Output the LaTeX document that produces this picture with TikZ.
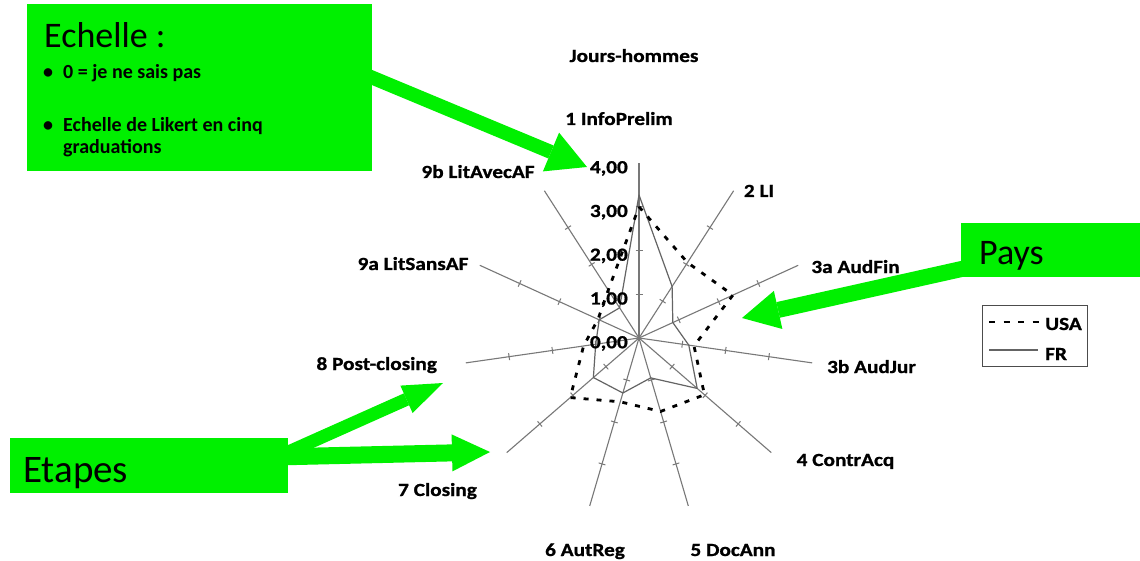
\documentclass[tikz,border=0pt]{standalone}
\usepackage{fontspec}
\setmainfont{Carlito}
\newfontfamily\chartfont[FakeStretch=1.15, BoldFeatures={FakeBold=1}]{Carlito}
\usetikzlibrary{arrows.meta,calc}
\definecolor{vert}{RGB}{0,240,0}
\definecolor{axisgray}{RGB}{120,120,120}
\definecolor{frgray}{RGB}{100,100,100}
\begin{document}
\begin{tikzpicture}[x=1pt,y=-1pt,
  lbl/.style={font=\chartfont\bfseries\fontsize{18.5}{20}\selectfont, inner sep=0pt, text=black, anchor=base},
  vallbl/.style={lbl, anchor=base east},
  axisline/.style={draw=axisgray, line width=1.1pt},
  tickmark/.style={draw=axisgray, line width=1pt},
  frline/.style={draw=frgray, line width=1.2pt, line join=round},
  usaline/.style={draw=black, line width=2.8pt, dash pattern=on 5pt off 8pt},
  greenbox/.style={fill=vert, draw=none, inner sep=0pt, anchor=north west},
  boxtitle/.style={font=\fontsize{36}{40}\selectfont, inner sep=0pt, anchor=base west},
  bullettext/.style={font=\bfseries\fontsize{20}{24}\selectfont, inner sep=0pt, anchor=base west},
  blockarrow/.style={draw=vert, line cap=butt}
]
\useasboundingbox (0,0) rectangle (1140,561);
\fill[white] (0,0) rectangle (1140,561);

% ---------- radar chart ----------
\coordinate (O) at (639,338);
\foreach \k in {0,...,10} {
  \coordinate (ax\k) at ($(O)+(-90+\k*32.72727:175)$);
}
\foreach \k in {0,...,10} {
  \draw[axisline] (O) -- (ax\k);
  \foreach \j in {1,...,4} {
    \coordinate (t\k-\j) at ($(O)!\j/4!(ax\k)$);
    \draw[tickmark] ($(t\k-\j)!3.5pt!90:(ax\k)$) -- ($(t\k-\j)!3.5pt!-90:(ax\k)$);
  }
}

% data
\foreach \v [count=\k from 0] in {3.27,1.40,0.85,1.15,1.76,0.95,1.31,1.38,1.0,1.0,0.82} {
  \coordinate (fr\k) at ($(O)!\v/4!(ax\k)$);
}
\foreach \v [count=\k from 0] in {3.0,2.05,2.36,1.27,1.98,1.75,1.52,2.08,1.28,1.03,1.3} {
  \coordinate (us\k) at ($(O)!\v/4!(ax\k)$);
}
\draw[frline] (fr0) -- (fr1) -- (fr2) -- (fr3) -- (fr4) -- (fr5) -- (fr6) -- (fr7) -- (fr8) -- (fr9) -- (fr10) -- cycle;
\draw[usaline] (us0) -- (us1) -- (us2) -- (us3) -- (us4) -- (us5) -- (us6) -- (us7) -- (us8) -- (us9) -- (us10) -- cycle;

% value labels
\node[vallbl] (v4) at (628,173.25) {4,00};
\node[vallbl] (v3) at (628,217) {3,00};
\node[vallbl] (v2) at (628,260.75) {2,00};
\node[vallbl] (v1) at (628,304.5) {1,00};
\node[vallbl] (v0) at (628,348.25) {0,00};

% axis labels
\node[lbl] (title) at (634,62) {Jours-hommes};
\node[lbl] (l1) at (619,125) {1 InfoPrelim};
\node[lbl] (l2) at (759,197) {2 LI};
\node[lbl] (l3a) at (855.5,273) {3a AudFin};
\node[lbl] (l3b) at (871.5,373) {3b AudJur};
\node[lbl] (l4) at (845.5,466) {4 ContrAcq};
\node[lbl] (l5) at (733,556) {5 DocAnn};
\node[lbl] (l6) at (585,556) {6 AutReg};
\node[lbl] (l7) at (437.5,496) {7 Closing};
\node[lbl] (l8) at (376.7,370) {8 Post-closing};
\node[lbl] (l9a) at (413,270) {9a LitSansAF};
\node[lbl] (l9b) at (478,178) {9b LitAvecAF};

% legend
\node[draw=black!70, line width=1pt, minimum width=105pt, minimum height=61pt, anchor=north west, inner sep=0pt] (legendbox) at (982,305) {};
\coordinate (usaA) at (989,322);
\coordinate (usaB) at (1040,322);
\coordinate (frA) at (989,350);
\coordinate (frB) at (1038,350);
\draw[usaline, dash pattern=on 6pt off 8.5pt] (usaA) -- (usaB);
\draw[frline] (frA) -- (frB);
\node[lbl, anchor=base west] (usalbl) at (1045,330) {USA};
\node[lbl, anchor=base west] (frlbl) at (1045,360) {FR};

% ---------- green boxes ----------
\node[greenbox, minimum width=345pt, minimum height=167pt] (echellebox) at (27,4) {};
\node[boxtitle] (echelletitle) at (44,48) {Echelle :};
\node[bullettext, anchor=base] (b1) at (48,79) {•};
\node[bullettext] (b1t) at (63,79) {0 = je ne sais pas};
\node[bullettext, anchor=base] (b2) at (48,132) {•};
\node[bullettext] (b2t) at (63,132) {Echelle de Likert en cinq};
\node[bullettext] (b2u) at (63,154) {graduations};

\node[greenbox, minimum width=180pt, minimum height=54pt] (paysbox) at (961,223) {};
\node[boxtitle] (paystitle) at (979,265) {Pays};

\node[greenbox, minimum width=278pt, minimum height=55pt] (etapesbox) at (10,438) {};
\node[boxtitle, font=\fontsize{39}{42}\selectfont] (etapestitle) at (23,482) {Etapes};

% ---------- block arrows ----------
\coordinate (eS) at (360,72.5);
\coordinate (eT) at (587,167);
\draw[blockarrow, line width=14pt, -{Triangle[length=39pt,width=42pt,line width=0pt]}] (eS) -- (eT);

\coordinate (pS) at (975,266);
\coordinate (pT) at (742,318);
\draw[blockarrow, line width=16pt, -{Triangle[length=37pt,width=39pt,line width=0pt]}] (pS) -- (pT);

\coordinate (tS1) at (275,458);
\coordinate (tT1) at (443,383);
\draw[blockarrow, line width=13pt, -{Triangle[length=40pt,width=30pt,line width=0pt]}] (tS1) -- (tT1);

\coordinate (tS2) at (275,457);
\coordinate (tT2) at (490,452);
\draw[blockarrow, line width=17pt, -{Triangle[length=38pt,width=37pt,line width=0pt]}] (tS2) -- (tT2);
\end{tikzpicture}
\end{document}
